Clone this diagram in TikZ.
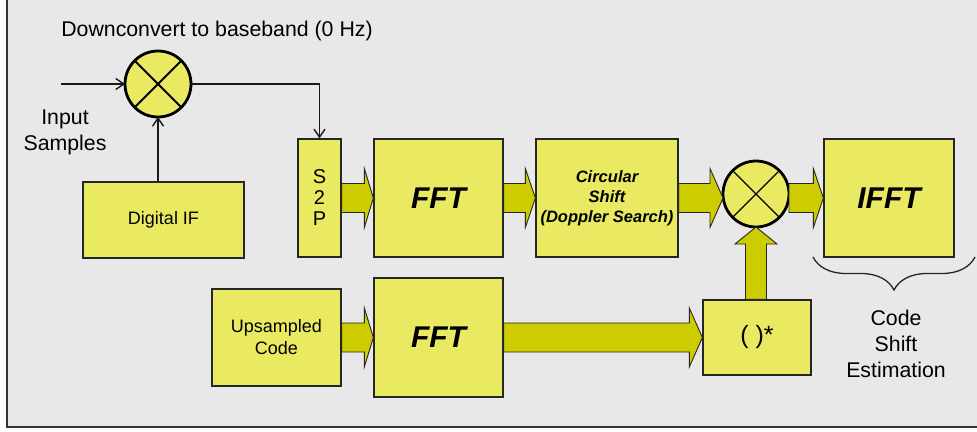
\documentclass[tikz,border=0pt]{standalone}
\usepackage{fontspec}
\setmainfont{Liberation Sans}
\usetikzlibrary{calc,arrows.meta,decorations.pathreplacing}
\definecolor{bgc}{RGB}{232,232,232}
\definecolor{boxy}{RGB}{233,234,98}
\definecolor{arry}{RGB}{204,204,0}
% horizontal block arrow: [head length]{source}{target}{node giving the row y}
\newcommand{\harr}[4][10]{%
  \filldraw[barrow] let \p1=(#2.east), \p2=(#3.west), \p3=(#4.center) in
   (\x1,\y3+14.5pt) -- (\x2-#1pt,\y3+14.5pt) -- (\x2-#1pt,\y3+29.5pt) -- (\x2,\y3)
   -- (\x2-#1pt,\y3-29.5pt) -- (\x2-#1pt,\y3-14.5pt) -- (\x1,\y3-14.5pt) -- cycle;}
\begin{document}
\begin{tikzpicture}[x=1pt,y=-1pt,
  blk/.style={draw=black!85, fill=boxy, line width=1.3pt, rectangle, inner sep=0pt, align=center},
  mix/.style={draw=black, fill=boxy, circle, line width=2.8pt, minimum size=66pt, inner sep=0pt, outer sep=0pt},
  sig/.style={draw=black!90, line width=1.4pt, -{Straight Barb[length=8pt,width=11pt,line width=1.4pt]}},
  barrow/.style={fill=arry, draw=black!85, line width=0.9pt, line join=miter},
  lbl/.style={inner sep=0pt, align=center},
  bigf/.style={font=\fontsize{30}{34}\bfseries\itshape\selectfont},
  medf/.style={font=\fontsize{18}{22}\selectfont},
  txtf/.style={font=\fontsize{21.3}{26}\selectfont},
]
\useasboundingbox (0,0) rectangle (977,431);
\fill[bgc] (7,0) rectangle (977,427);
\draw[line width=1.6pt, black!80] (7,0) -- (7,427) -- (977,427);

% title and labels
\node[lbl, txtf, anchor=base] (title) at (217,36) {Downconvert to baseband (0 Hz)};
\node[lbl, txtf, anchor=north] (insmp) at (65,110) {Input\\Samples};
\node[lbl, txtf, anchor=north] (cse) at (896,310) {Code\\Shift\\Estimation};

% mixers
\node[mix] (m1) at (158,84) {};
\draw[line width=1.8pt] (m1.45) -- (m1.225) (m1.135) -- (m1.315);
\node[mix] (m2) at (756,194) {};
\draw[line width=1.2pt] (m2.45) -- (m2.225) (m2.135) -- (m2.315);

% blocks
\node[blk, medf, minimum width=161pt, minimum height=76pt] (dif) at (163.5,220) {Digital IF};
\node[blk, font=\fontsize{20}{21}\selectfont, minimum width=43pt, minimum height=118pt] (s2p) at (319.5,198) {S\\2\\P};
\node[blk, bigf, minimum width=129pt, minimum height=118pt] (fft1) at (438.5,198) {FFT};
\node[blk, font=\fontsize{16.5}{20}\bfseries\itshape\selectfont, minimum width=142pt, minimum height=118pt] (circ) at (607,198) {Circular\\Shift\\(Doppler Search)};
\node[blk, bigf, minimum width=130pt, minimum height=118pt] (ifft) at (889,198) {IFFT};
\node[blk, medf, minimum width=129pt, minimum height=97pt] (ups) at (276.5,337.5) {Upsampled\\Code};
\node[blk, bigf, minimum width=129pt, minimum height=119pt] (fft2) at (438.5,337.5) {FFT};
\node[blk, font=\fontsize{25}{26}\selectfont, minimum width=108pt, minimum height=75pt] (conj) at (757,337.5) {( )*};

% thin signal lines
\coordinate (inp) at (61,84);
\draw[sig] (inp) -- (m1.west);
\draw[sig] (m1.south |- dif.north) -- (m1.south);
\draw[sig] (m1.east) -| (s2p.north);

% block arrows
\harr[9]{s2p}{fft1}{s2p}
\harr[10]{fft1}{circ}{fft1}
\harr[13]{circ}{m2}{circ}
\harr[10]{m2}{ifft}{ifft}
\harr[9]{ups}{fft2}{ups}
\harr[13]{fft2}{conj}{fft2}
\filldraw[barrow] let \p1=(conj.north), \p2=(m2.south) in
  (\x2-10.5pt,\y1) -- (\x2-10.5pt,\y2-17pt) -- (\x2-21pt,\y2-17pt) -- (\x2,\y2)
  -- (\x2+21pt,\y2-17pt) -- (\x2+10.5pt,\y2-17pt) -- (\x2+10.5pt,\y1) -- cycle;

% brace under IFFT
\coordinate (br1) at (975,257);
\coordinate (br2) at (813,257);
\draw[decorate, decoration={brace, amplitude=33pt}, line width=1.3pt, black!85] (br1) -- (br2);
\end{tikzpicture}
\end{document}
